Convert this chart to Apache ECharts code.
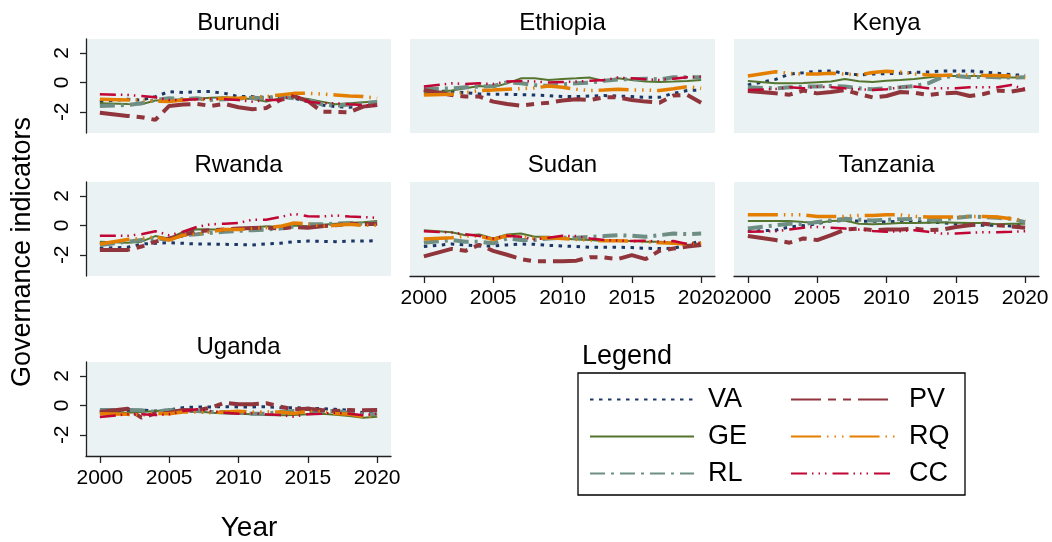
<!DOCTYPE html>
<html><head><meta charset="utf-8">
<script src="https://cdn.jsdelivr.net/npm/echarts@6/dist/echarts.min.js"></script>
<style>html,body{margin:0;padding:0;background:#fff}#c{width:1052px;height:542px}</style>
</head><body><div id="c"></div>
<script>
const years = [2000,2002,2003,2004,2005,2006,2007,2008,2009,2010,2011,2012,2013,2014,2015,2016,2017,2018,2019,2020];
const indicators = ['VA','GE','RL','PV','RQ','CC'];
const countries = ['Burundi','Ethiopia','Kenya','Rwanda','Sudan','Tanzania','Uganda'];
const yTicks = [-2,0,2];
const xTicks = [2000,2005,2010,2015,2020];

// rows: VA, GE, RL, PV, RQ, CC
const burundi = [
  [-1.31,-1.15,-1.20,-0.97,-0.63,-0.70,-0.63,-0.63,-0.75,-0.97,-0.97,-1.02,-0.97,-1.08,-1.31,-1.54,-1.65,-1.69,-1.65,-1.54],
  [-1.42,-1.47,-1.49,-1.24,-1.20,-1.15,-1.11,-1.04,-1.02,-1.08,-1.13,-1.31,-1.08,-1.02,-1.13,-1.31,-1.49,-1.42,-1.36,-1.31],
  [-1.60,-1.54,-1.42,-1.20,-1.08,-1.15,-1.08,-1.20,-1.15,-1.11,-1.04,-1.08,-0.97,-1.08,-1.20,-1.49,-1.58,-1.51,-1.42,-1.33],
  [-2.06,-2.28,-2.37,-2.55,-1.60,-1.51,-1.47,-1.60,-1.47,-1.69,-1.83,-1.74,-1.20,-0.93,-1.27,-1.99,-2.01,-2.03,-1.65,-1.54],
  [-1.15,-1.20,-1.20,-1.27,-1.31,-1.20,-1.15,-1.13,-1.08,-1.08,-1.02,-0.97,-0.86,-0.75,-0.75,-0.79,-0.86,-0.93,-0.97,-1.08],
  [-0.81,-0.86,-0.93,-1.02,-1.20,-1.20,-1.15,-1.11,-1.15,-1.20,-1.31,-1.20,-1.20,-0.86,-1.31,-1.42,-1.42,-1.49,-1.54,-1.60]
];
const ethiopia = [
  [-0.56,-0.63,-0.70,-0.79,-0.81,-0.81,-0.84,-0.86,-0.90,-0.97,-0.97,-0.93,-0.90,-0.93,-0.97,-1.02,-1.02,-0.75,-0.56,-0.52],
  [-0.75,-0.56,-0.41,-0.25,-0.34,-0.07,0.27,0.27,0.16,0.23,0.27,0.32,0.09,0.27,0.16,0.05,0.02,0.05,0.09,0.16],
  [-0.47,-0.41,-0.34,-0.29,-0.25,0.00,-0.07,-0.18,-0.25,-0.14,-0.07,-0.02,0.11,0.20,0.20,0.25,0.20,0.34,0.34,0.34],
  [-0.52,-0.86,-0.97,-0.97,-1.31,-1.47,-1.58,-1.47,-1.38,-1.24,-1.15,-1.20,-1.02,-1.02,-1.20,-1.31,-1.38,-0.90,-0.86,-1.38],
  [-0.86,-0.81,-0.70,-0.56,-0.52,-0.47,-0.43,-0.38,-0.25,-0.34,-0.47,-0.56,-0.52,-0.47,-0.52,-0.52,-0.56,-0.43,-0.29,-0.41],
  [-0.29,-0.07,-0.11,-0.07,-0.11,0.05,0.09,0.05,-0.02,0.02,0.05,0.11,0.16,0.32,0.27,0.20,0.16,0.25,0.34,0.38]
];
const kenya = [
  [-0.18,0.20,0.56,0.65,0.75,0.77,0.61,0.50,0.56,0.59,0.61,0.68,0.70,0.77,0.77,0.77,0.70,0.61,0.52,0.47],
  [0.09,-0.07,-0.07,-0.05,0.00,0.05,0.23,0.07,0.02,0.11,0.16,0.23,0.32,0.43,0.43,0.43,0.43,0.32,0.32,0.32],
  [-0.34,-0.41,-0.34,-0.29,-0.29,-0.25,-0.29,-0.41,-0.47,-0.41,-0.34,-0.25,-0.07,0.34,0.43,0.34,0.38,0.34,0.32,0.34],
  [-0.59,-0.75,-0.84,-0.56,-0.75,-0.66,-0.52,-0.79,-1.02,-0.93,-0.66,-0.70,-0.86,-0.75,-0.70,-0.93,-0.79,-0.56,-0.63,-0.47],
  [0.43,0.72,0.61,0.56,0.56,0.61,0.56,0.50,0.66,0.75,0.70,0.56,0.50,0.47,0.50,0.50,0.47,0.47,0.43,0.32],
  [-0.52,-0.45,-0.34,-0.41,-0.29,-0.34,-0.41,-0.47,-0.52,-0.47,-0.34,-0.29,-0.41,-0.41,-0.41,-0.34,-0.34,-0.34,-0.18,-0.47]
];
const rwanda = [
  [-1.56,-1.49,-1.27,-1.22,-1.18,-1.22,-1.27,-1.27,-1.29,-1.31,-1.33,-1.27,-1.22,-1.11,-1.07,-1.09,-1.11,-1.07,-1.07,-1.04],
  [-1.11,-1.18,-1.11,-0.73,-0.89,-0.44,-0.27,-0.29,-0.29,-0.22,-0.16,-0.07,-0.11,-0.02,-0.07,0.04,0.11,0.16,0.20,0.29],
  [-1.33,-1.11,-1.00,-0.89,-0.96,-0.67,-0.60,-0.51,-0.44,-0.38,-0.33,-0.29,-0.22,-0.07,0.07,0.07,0.11,0.16,0.11,0.16],
  [-1.67,-1.67,-1.44,-1.11,-0.89,-0.67,-0.40,-0.33,-0.29,-0.22,-0.18,-0.16,-0.22,-0.11,-0.16,-0.07,0.00,0.11,0.07,0.11],
  [-1.27,-0.96,-0.89,-0.78,-1.00,-0.67,-0.60,-0.44,-0.29,-0.29,-0.22,-0.16,-0.07,0.16,0.11,-0.07,0.00,0.07,0.00,0.00],
  [-0.71,-0.71,-0.60,-0.40,-0.67,-0.44,-0.11,0.07,0.11,0.16,0.38,0.38,0.56,0.78,0.62,0.60,0.67,0.60,0.56,0.51]
];
const sudan = [
  [-1.44,-1.27,-1.33,-1.40,-1.40,-1.33,-1.27,-1.29,-1.36,-1.40,-1.44,-1.49,-1.49,-1.49,-1.51,-1.56,-1.58,-1.56,-1.33,-1.04],
  [-0.33,-0.47,-0.67,-0.62,-0.89,-0.62,-0.56,-0.78,-0.78,-0.89,-0.96,-1.00,-1.07,-1.07,-1.07,-1.11,-1.11,-1.18,-1.33,-1.22],
  [-1.18,-1.00,-1.11,-1.11,-1.22,-0.89,-1.00,-1.00,-0.89,-0.84,-0.84,-0.78,-0.73,-0.67,-0.71,-0.78,-0.67,-0.56,-0.60,-0.56],
  [-2.11,-1.60,-1.73,-1.33,-1.73,-2.00,-2.29,-2.44,-2.44,-2.44,-2.40,-2.16,-2.18,-2.29,-2.02,-2.29,-1.73,-1.58,-1.44,-1.33],
  [-0.93,-0.84,-0.73,-0.73,-0.96,-0.71,-0.73,-0.89,-0.84,-0.89,-0.96,-1.00,-1.04,-1.04,-1.07,-1.11,-1.18,-1.22,-1.27,-1.18],
  [-0.40,-0.49,-0.60,-0.73,-0.89,-0.71,-0.78,-0.96,-0.84,-0.71,-0.73,-0.89,-1.00,-1.04,-1.07,-1.04,-1.11,-1.07,-1.27,-1.18]
];
const tanzania = [
  [-0.40,-0.33,-0.11,-0.02,0.11,0.29,0.33,0.29,0.27,0.22,0.29,0.27,0.22,0.18,0.11,0.04,0.00,0.00,-0.04,0.04],
  [0.29,0.29,0.29,0.22,0.16,0.29,0.33,0.11,0.07,0.11,0.16,0.16,0.18,0.20,0.18,0.16,0.16,0.07,0.11,0.11],
  [-0.22,0.00,0.11,0.07,0.22,0.33,0.44,0.38,0.33,0.38,0.42,0.44,0.38,0.38,0.51,0.60,0.56,0.51,0.44,0.22],
  [-0.73,-1.00,-1.18,-0.89,-1.00,-0.67,-0.29,-0.22,-0.33,-0.29,-0.29,-0.22,-0.33,-0.29,-0.11,0.00,0.11,0.00,-0.07,-0.16],
  [0.71,0.71,0.71,0.71,0.60,0.60,0.60,0.67,0.67,0.71,0.71,0.60,0.56,0.56,0.56,0.60,0.60,0.56,0.44,0.33],
  [-0.44,-0.40,-0.29,-0.16,-0.11,-0.16,-0.22,-0.29,-0.38,-0.44,-0.40,-0.33,-0.44,-0.56,-0.56,-0.51,-0.47,-0.47,-0.44,-0.40]
];
const uganda = [
  [-0.45,-0.39,-0.32,-0.39,-0.32,-0.16,-0.11,-0.11,-0.09,-0.11,-0.11,-0.09,-0.16,-0.16,-0.20,-0.23,-0.27,-0.34,-0.50,-0.50],
  [-0.50,-0.50,-0.45,-0.39,-0.32,-0.34,-0.39,-0.50,-0.55,-0.57,-0.61,-0.66,-0.68,-0.66,-0.61,-0.57,-0.64,-0.73,-0.84,-0.77],
  [-0.32,-0.32,-0.34,-0.45,-0.32,-0.39,-0.39,-0.45,-0.45,-0.50,-0.57,-0.57,-0.45,-0.39,-0.39,-0.39,-0.39,-0.50,-0.61,-0.61],
  [-0.45,-0.23,-0.84,-0.55,-0.50,-0.32,-0.34,-0.16,0.18,0.07,0.07,0.14,-0.09,-0.27,-0.23,-0.32,-0.39,-0.32,-0.34,-0.32],
  [-0.57,-0.61,-0.66,-0.55,-0.57,-0.45,-0.45,-0.50,-0.45,-0.41,-0.45,-0.45,-0.45,-0.55,-0.41,-0.45,-0.55,-0.61,-0.77,-0.73],
  [-0.80,-0.61,-0.61,-0.66,-0.61,-0.39,-0.27,-0.39,-0.50,-0.57,-0.55,-0.61,-0.66,-0.77,-0.61,-0.57,-0.50,-0.57,-0.68,-0.57]
];
const countryData = [burundi, ethiopia, kenya, rwanda, sudan, tanzania, uganda];

// ---- styles ----
const FONT = "'Liberation Sans', Arial, Helvetica, sans-serif";
const lineStyles = [
  {color:'#1c3766', width:3,   type:[3.5,5.5]},                       // VA
  {color:'#55752f', width:2,   type:'solid'},                         // GE
  {color:'#6e8e84', width:4,   type:[15,6,3,6]},                      // RL
  {color:'#90353b', width:4,   type:[30,7,8,7,8,7]},                  // PV
  {color:'#e37e00', width:3.5, type:[30,6,1.5,6,1.5,6,1.5,6]},        // RQ
  {color:'#c10534', width:2.5, type:[16,5,1.5,5,1.5,5,1.5,6]}         // CC
];
const colLeft = [86, 410, 734];
const rowTop = [39, 182, 362];
const W = 305, H = 94;
const Y_MIN = -3.44, Y_MAX = 2.94;

const grids = [], xAxes = [], yAxes = [], series = [], graphics = [];
countries.forEach((name, i) => {
  const c = i % 3, r = Math.floor(i / 3);
  grids.push({left: colLeft[c], top: rowTop[r], width: W, height: H,
    show: true, backgroundColor: '#eaf2f3', borderWidth: 0, containLabel: false});
  const showX = (i >= 4);
  const showY = (c === 0);
  xAxes.push({type: 'value', gridIndex: i, min: 1999, max: 2021, show: showX,
    axisLine: {show: true, onZero: false, lineStyle: {color: '#222', width: 1.3}},
    axisTick: {show: true, length: 7, customValues: xTicks, lineStyle: {color: '#222', width: 1.3}},
    axisLabel: {show: true, customValues: xTicks, margin: 12, fontSize: 21, color: '#000', fontFamily: FONT,
      formatter: v => String(v)},
    splitLine: {show: false}});
  yAxes.push({type: 'value', gridIndex: i, min: Y_MIN, max: Y_MAX, show: showY,
    axisLine: {show: true, lineStyle: {color: '#222', width: 1.3}},
    axisTick: {show: true, length: 6, customValues: yTicks, lineStyle: {color: '#222', width: 1.3}},
    axisLabel: {show: true, customValues: yTicks, rotate: 90, margin: 13, fontSize: 21, color: '#000', fontFamily: FONT,
      formatter: v => String(v)},
    splitLine: {show: false}});
  const d = countryData[i];
  indicators.forEach((ind, j) => {
    series.push({type: 'line', name: ind, xAxisIndex: i, yAxisIndex: i,
      data: years.map((y, k) => [y, d[j][k]]),
      symbol: 'none', showSymbol: false, silent: true, animation: false, z: 2 + j * 0.01,
      itemStyle: {color: lineStyles[j].color},
      lineStyle: {color: lineStyles[j].color, width: lineStyles[j].width, type: lineStyles[j].type}});
  });
  const titleY = [23, 165, 347][r];
  graphics.push({type: 'text', x: colLeft[c] + W / 2, y: titleY,
    style: {text: name, font: `24px ${FONT}`, fill: '#000', textAlign: 'center', textVerticalAlign: 'middle'}});
});

graphics.push({type: 'text', x: 23, y: 252, rotation: Math.PI / 2,
  style: {text: 'Governance indicators', font: `27px ${FONT}`, fill: '#000', textAlign: 'center', textVerticalAlign: 'middle'}});
graphics.push({type: 'text', x: 249, y: 528,
  style: {text: 'Year', font: `28px ${FONT}`, fill: '#000', textAlign: 'center', textVerticalAlign: 'middle'}});
graphics.push({type: 'text', x: 582, y: 357,
  style: {text: 'Legend', font: `27px ${FONT}`, fill: '#000', textAlign: 'left', textVerticalAlign: 'middle'}});
graphics.push({type: 'rect', shape: {x: 578, y: 373, width: 387, height: 122},
  style: {fill: 'none', stroke: '#000', lineWidth: 1.3}});

const legendCommon = {orient: 'vertical', top: 386, itemWidth: 104, itemHeight: 25, itemGap: 10,
  padding: 0, selectedMode: false, itemStyle: {opacity: 0},
  textStyle: {fontSize: 27, lineHeight: 25, color: '#000', fontFamily: FONT, padding: [0, 0, 0, 9]}};

const option = {
  backgroundColor: '#ffffff',
  animation: false,
  grid: grids, xAxis: xAxes, yAxis: yAxes, series: series,
  legend: [
    Object.assign({}, legendCommon, {left: 589, data: ['VA', 'GE', 'RL']}),
    Object.assign({}, legendCommon, {left: 790, data: ['PV', 'RQ', 'CC']})
  ],
  graphic: graphics
};
const chart = echarts.init(document.getElementById('c'), null, {renderer: 'canvas'});
chart.setOption(option);
</script></body></html>
